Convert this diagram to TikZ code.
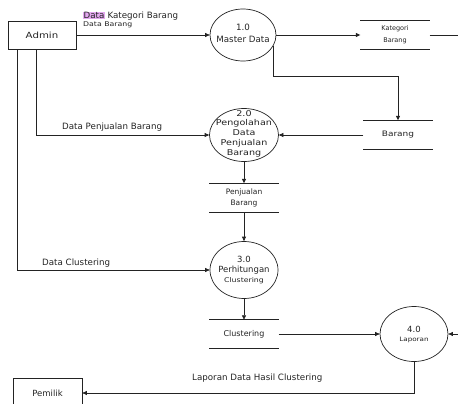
\documentclass[tikz,border=0pt]{standalone}
\usepackage{fontspec}
\setmainfont{DejaVu Sans}
\newfontfamily\widefont{DejaVu Sans}[FakeStretch=1.2]
\usetikzlibrary{arrows.meta,shapes.geometric}
\definecolor{hl}{RGB}{228,168,240}
\definecolor{ink}{RGB}{35,35,35}
\setlength{\fboxsep}{0.4pt}
\tikzset{
  txt/.style={inner sep=0pt, text=ink, font=\fontsize{8.7}{10}\selectfont},
  ent/.style={draw=ink, line width=0.7pt, rectangle, inner sep=0pt, text=ink, font=\fontsize{8.7}{10}\selectfont},
  proc/.style={draw=ink, line width=0.7pt, ellipse, inner sep=0pt},
  store/.style={rectangle, inner sep=0pt, minimum width=69pt, minimum height=29pt, align=center, text=ink,
    append after command={(\tikzlastnode.north west) edge[draw=ink, line width=0.7pt] (\tikzlastnode.north east)
                          (\tikzlastnode.south west) edge[draw=ink, line width=0.7pt] (\tikzlastnode.south east)}},
  flow/.style={draw=ink, line width=0.7pt},
  arr/.style={flow, -{Triangle[length=4.5pt,width=4pt]}},
}
\begin{document}
\begin{tikzpicture}[x=1pt,y=-1pt]
\useasboundingbox (0,0) rectangle (458,404);
\clip (0,0) rectangle (458,404);

% external entities
\node[ent, minimum width=68pt, minimum height=28pt, font=\widefont\fontsize{8.5}{10}\selectfont] (admin) at (42,35) {Admin};
\node[ent, minimum width=69pt, minimum height=30pt, font=\fontsize{8.5}{10}\selectfont] (pemilik) at (47.5,393) {Pemilik};

% processes
\node[proc, minimum width=66pt, minimum height=52pt] (p1) at (243,35) {};
\node[proc, minimum width=69pt, minimum height=53pt] (p2) at (244,135) {};
\node[proc, minimum width=68pt, minimum height=57pt] (p3) at (244,270) {};
\node[proc, minimum width=68pt, minimum height=55pt] (p4) at (414,334) {};

\node[txt, align=center, font=\fontsize{8.7}{12}\selectfont] (p1t) at (243,33) {1.0\\Master Data};
\node[txt, align=center, font=\widefont\fontsize{8}{9.7}\selectfont] (p2t) at (244,133.5) {2.0\\Pengolahan\\Data\\Penjualan\\Barang};
\node[txt, align=center, font=\fontsize{8.5}{10}\selectfont] (p3t) at (244,270) {3.0\\Perhitungan\\{\widefont\fontsize{6.5}{10}\selectfont Clustering}};
\node[txt, align=center, font=\fontsize{8.5}{9}\selectfont] (p4t) at (414,334.5) {4.0\\{\widefont\fontsize{6}{9}\selectfont Laporan}};

% data stores
\node[store, font=\fontsize{6.5}{12}\selectfont] (ks) at (395,35) {Kategori\\Barang};
\node[store, font=\widefont\fontsize{7.5}{10}\selectfont] (bs) at (398,135) {Barang};
\node[store, font=\fontsize{7.5}{11}\selectfont] (pjs) at (244,198) {Penjualan\\Barang};
\node[store, minimum height=28pt, font=\fontsize{8}{10}\selectfont] (cs) at (244,334) {Clustering};

\coordinate (kse) at (462,35);
\coordinate (rin) at (462,334);

% flows
\draw[arr] (admin.east) -- (p1.west);
\draw[arr] (p1.east) -- (ks.west);
\draw[flow] (ks.east) -- (kse);
\draw[arr] (p1.-20) |- ([yshift=44pt]bs.north) -- (bs.north);
\draw[arr] (bs.west) -- (p2.east);
\draw[arr] ([xshift=-6pt]admin.south) |- (p2.west);
\draw[arr] (p2.south) -- (pjs.north);
\draw[arr] (pjs.south) -- (p3.north);
\draw[arr] ([xshift=-25pt]admin.south) |- (p3.west);
\draw[arr] (p3.south) -- (cs.north);
\draw[arr] (cs.east) -- (p4.west);
\draw[arr] (rin) -- (p4.east);
\draw[arr] (p4.south) |- (pemilik.east);

% flow labels
\node[txt, anchor=west] (lk) at (83,16) {\colorbox{hl}{Data} Kategori Barang};
\node[txt, anchor=west, font=\widefont\fontsize{6.5}{8}\selectfont] (lb) at (83,25) {Data Barang};
\node[txt, anchor=west] (ldp) at (62,127) {Data Penjualan Barang};
\node[txt, anchor=west] (ldc) at (42,263) {Data Clustering};
\node[txt, anchor=west] (llap) at (192,378) {Laporan Data Hasil Clustering};
\end{tikzpicture}
\end{document}
